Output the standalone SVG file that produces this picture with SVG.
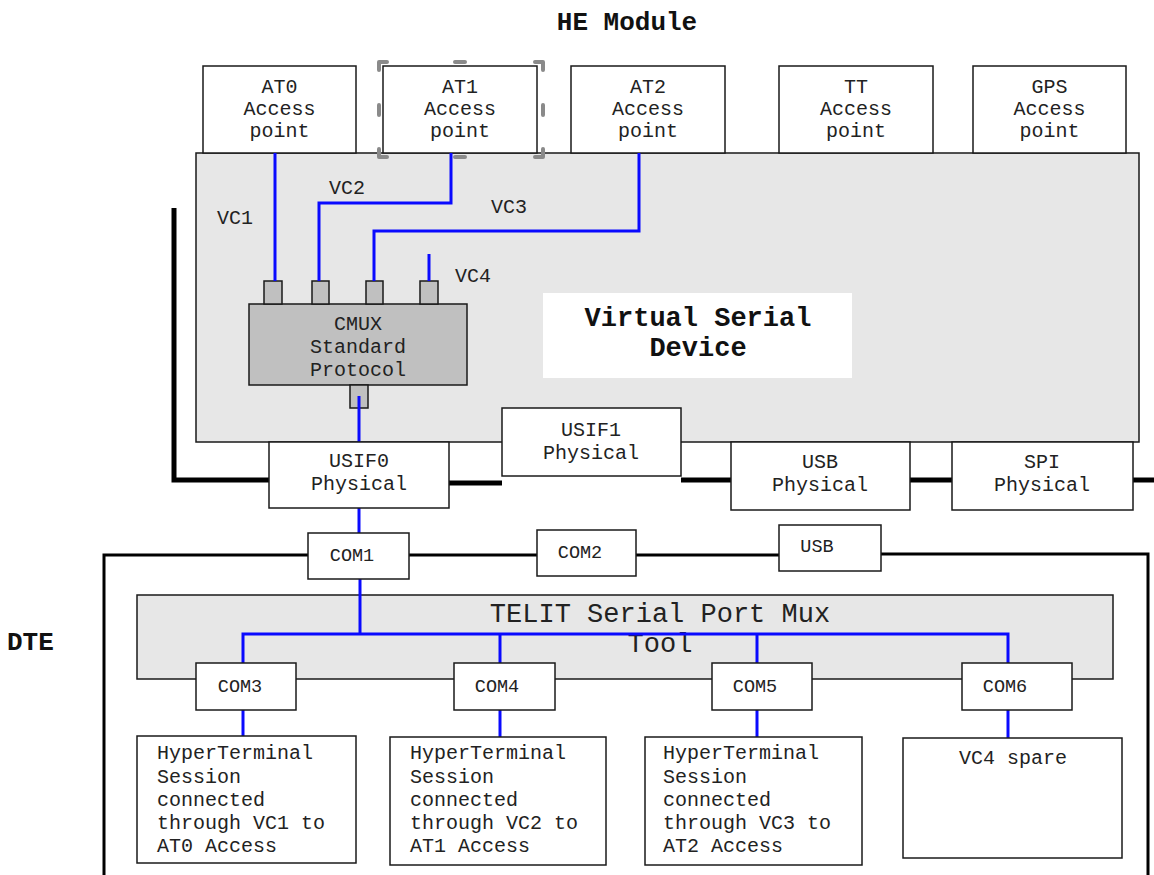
<svg xmlns="http://www.w3.org/2000/svg" width="1154" height="875" viewBox="0 0 1154 875">
  <style>
    .box { fill: #ffffff; stroke: #1a1a1a; stroke-width: 1.5; }
    .panel { fill: #e7e7e7; stroke: #1a1a1a; stroke-width: 1.5; }
    .dark { fill: #c0c0c0; stroke: #1a1a1a; stroke-width: 1.5; }
    .label { fill: #ffffff; stroke: none; }
    .t { font-family: "Liberation Mono", "Courier New", monospace; font-size: 20px; fill: #222222; text-anchor: middle; }
    .l { text-anchor: start; }
    .com { font-size: 18.5px; }
    .big { font-size: 27px; }
    .b { font-weight: bold; fill: #111111; }
    .vc { fill: none; stroke: #0a0aff; stroke-width: 3; }
    .bus { fill: none; stroke: #000000; stroke-width: 5; }
    .frame { fill: none; stroke: #000000; stroke-width: 3; }
    .handle { fill: none; stroke: #8a8a8a; stroke-width: 4; stroke-linecap: round; stroke-linejoin: round; }
  </style>

  <!-- titles -->
  <text id="title-he" class="t b" x="627" y="30" style="font-size:26px">HE Module</text>
  <text id="title-dte" class="t b l" x="7" y="650" style="font-size:26px">DTE</text>

  <!-- virtual serial device container -->
  <g id="virtual-serial-device">
    <rect class="panel" x="196" y="153" width="943" height="289"/>
    <rect class="label" x="543" y="293" width="309" height="85"/>
    <text class="t b big" x="698" y="326">Virtual Serial</text>
    <text class="t b big" x="698" y="356">Device</text>
  </g>

  <!-- access points -->
  <g id="at0">
    <rect class="box" x="203" y="66" width="153" height="87"/>
    <text class="t" x="279.5" y="93">AT0</text>
    <text class="t" x="279.5" y="115">Access</text>
    <text class="t" x="279.5" y="137">point</text>
  </g>
  <g id="at1">
    <rect class="box" x="383" y="66" width="154" height="87"/>
    <text class="t" x="460" y="93">AT1</text>
    <text class="t" x="460" y="115">Access</text>
    <text class="t" x="460" y="137">point</text>
  </g>
  <g id="at1-handles">
    <path class="handle" d="M379,70 V62 H387 M535,62 H543 V70 M543,149 V157 H535 M387,157 H379 V149"/>
    <path class="handle" d="M455,62 H465 M455,157 H465 M379,105 V115 M543,105 V115"/>
  </g>
  <g id="at2">
    <rect class="box" x="571" y="66" width="154" height="87"/>
    <text class="t" x="648" y="93">AT2</text>
    <text class="t" x="648" y="115">Access</text>
    <text class="t" x="648" y="137">point</text>
  </g>
  <g id="tt">
    <rect class="box" x="779" y="66" width="154" height="87"/>
    <text class="t" x="856" y="93">TT</text>
    <text class="t" x="856" y="115">Access</text>
    <text class="t" x="856" y="137">point</text>
  </g>
  <g id="gps">
    <rect class="box" x="973" y="66" width="153" height="87"/>
    <text class="t" x="1049.5" y="93">GPS</text>
    <text class="t" x="1049.5" y="115">Access</text>
    <text class="t" x="1049.5" y="137">point</text>
  </g>

  <!-- DTE side -->
  <g id="telit-mux">
    <rect class="panel" x="137" y="595" width="976" height="84"/>
    <text class="t big" x="660" y="622">TELIT Serial Port Mux</text>
    <text class="t big" x="660" y="652">Tool</text>
  </g>

  <!-- CMUX block with its ports -->
  <g id="cmux">
    <rect class="dark" x="249" y="304" width="218" height="81"/>
    <text class="t" x="358" y="330">CMUX</text>
    <text class="t" x="358" y="353">Standard</text>
    <text class="t" x="358" y="376">Protocol</text>
    <rect class="dark" x="264" y="281" width="18" height="23"/>
    <rect class="dark" x="312" y="281" width="17" height="23"/>
    <rect class="dark" x="366" y="281" width="17" height="23"/>
    <rect class="dark" x="420" y="281" width="18" height="23"/>
    <rect class="dark" x="350" y="385" width="18" height="23"/>
  </g>

  <!-- connectors: buses and virtual channels -->
  <g id="connectors">
    <path class="bus" d="M174,208 V480 H270"/>
    <path class="bus" d="M449,483 H502"/>
    <path class="bus" d="M681,480 H732"/>
    <path class="bus" d="M910,480 H953"/>
    <path class="bus" d="M1133,480 H1154"/>
    <path class="frame" d="M308,555 H104 V875"/>
    <path class="frame" d="M409,555 H537"/>
    <path class="frame" d="M636,555 H779"/>
    <path class="frame" d="M881,554 H1148 V875"/>

    <path class="vc" d="M275,153 V281"/>
    <path class="vc" d="M451,153 V203 H319 V281"/>
    <path class="vc" d="M639,153 V231 H374 V281"/>
    <path class="vc" d="M429,254 V281"/>
    <path class="vc" d="M359,396 V533"/>
    <path class="vc" d="M360,579 V634"/>
    <path class="vc" d="M243,663 V634 H1008 V663"/>
    <path class="vc" d="M500,634 V663"/>
    <path class="vc" d="M757,634 V663"/>
    <path class="vc" d="M243,710 V737"/>
    <path class="vc" d="M500,710 V737"/>
    <path class="vc" d="M757,710 V737"/>
    <path class="vc" d="M1008,710 V738"/>

    <text class="t" x="235" y="224">VC1</text>
    <text class="t" x="347" y="194">VC2</text>
    <text class="t" x="509" y="213">VC3</text>
    <text class="t" x="473" y="282">VC4</text>
  </g>

  <!-- physical interfaces -->
  <g id="usif0">
    <rect class="box" x="269" y="442" width="180" height="66"/>
    <text class="t" x="359" y="467">USIF0</text>
    <text class="t" x="359" y="490">Physical</text>
  </g>
  <g id="usif1">
    <rect class="box" x="502" y="408" width="179" height="68"/>
    <text class="t" x="591" y="436">USIF1</text>
    <text class="t" x="591" y="459">Physical</text>
  </g>
  <g id="usb-physical">
    <rect class="box" x="731" y="442" width="179" height="68"/>
    <text class="t" x="820" y="468">USB</text>
    <text class="t" x="820" y="491">Physical</text>
  </g>
  <g id="spi-physical">
    <rect class="box" x="952" y="442" width="181" height="68"/>
    <text class="t" x="1042" y="468">SPI</text>
    <text class="t" x="1042" y="491">Physical</text>
  </g>

  <!-- PC ports -->
  <g id="com1">
    <rect class="box" x="308" y="533" width="101" height="46"/>
    <text class="t com" x="352" y="561">COM1</text>
  </g>
  <g id="com2">
    <rect class="box" x="537" y="530" width="99" height="46"/>
    <text class="t com" x="580" y="558">COM2</text>
  </g>
  <g id="usb">
    <rect class="box" x="779" y="525" width="102" height="46"/>
    <text class="t com" x="817" y="552">USB</text>
  </g>
  <g id="com3">
    <rect class="box" x="196" y="663" width="100" height="47"/>
    <text class="t com" x="240" y="692">COM3</text>
  </g>
  <g id="com4">
    <rect class="box" x="454" y="663" width="101" height="47"/>
    <text class="t com" x="497" y="692">COM4</text>
  </g>
  <g id="com5">
    <rect class="box" x="712" y="663" width="100" height="47"/>
    <text class="t com" x="755" y="692">COM5</text>
  </g>
  <g id="com6">
    <rect class="box" x="962" y="663" width="110" height="47"/>
    <text class="t com" x="1005" y="692">COM6</text>
  </g>

  <!-- terminal sessions -->
  <g id="session-vc1">
    <rect class="box" x="137" y="736" width="219" height="127"/>
    <text class="t l" x="157" y="759">HyperTerminal</text>
    <text class="t l" x="157" y="783">Session</text>
    <text class="t l" x="157" y="806">connected</text>
    <text class="t l" x="157" y="829">through VC1 to</text>
    <text class="t l" x="157" y="852">AT0 Access</text>
  </g>
  <g id="session-vc2">
    <rect class="box" x="390" y="737" width="216" height="128"/>
    <text class="t l" x="410" y="759">HyperTerminal</text>
    <text class="t l" x="410" y="783">Session</text>
    <text class="t l" x="410" y="806">connected</text>
    <text class="t l" x="410" y="829">through VC2 to</text>
    <text class="t l" x="410" y="852">AT1 Access</text>
  </g>
  <g id="session-vc3">
    <rect class="box" x="645" y="737" width="217" height="128"/>
    <text class="t l" x="663" y="759">HyperTerminal</text>
    <text class="t l" x="663" y="783">Session</text>
    <text class="t l" x="663" y="806">connected</text>
    <text class="t l" x="663" y="829">through VC3 to</text>
    <text class="t l" x="663" y="852">AT2 Access</text>
  </g>
  <g id="session-vc4">
    <rect class="box" x="903" y="738" width="219" height="120"/>
    <text class="t" x="1013" y="764">VC4 spare</text>
  </g>
</svg>
